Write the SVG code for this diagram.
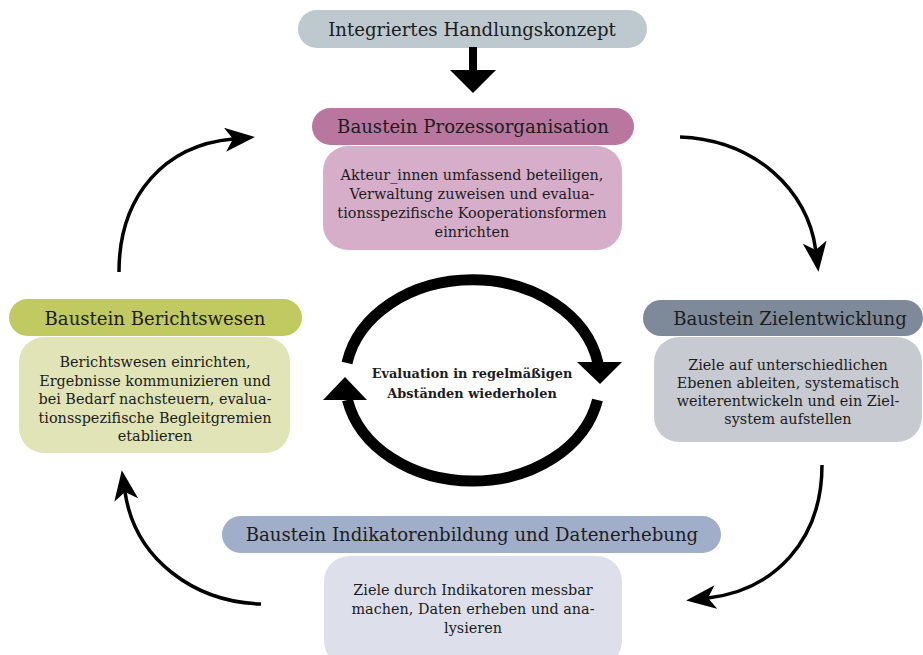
<svg xmlns="http://www.w3.org/2000/svg" width="923" height="655" viewBox="0 0 923 655">
<style>
.t{font-family:"DejaVu Serif","Liberation Serif",serif;fill:#1c1c1c;text-anchor:middle}
.h{font-size:18.1px}
.b{font-size:14.4px}
.c{font-size:12.9px;font-weight:bold}
.conn{fill:none;stroke:#000;stroke-width:3.5}
.loop{fill:none;stroke:#000;stroke-width:11}
</style>
<defs>
<marker id="ah" markerUnits="userSpaceOnUse" viewBox="0 0 30 24" markerWidth="30" markerHeight="24" refX="8" refY="12" orient="auto">
<path d="M0,0 L30,12 L0,24 L8,12 Z" fill="#000"/>
</marker>
</defs>
<rect width="923" height="655" fill="#fff"/>

<g id="node-konzept">
<rect x="298" y="10" width="349" height="38" rx="19" fill="#bdc8cf"/>
<text class="t h" x="472" y="36">Integriertes Handlungskonzept</text>
</g>

<g id="node-prozess">
<rect x="312" y="108" width="322" height="37" rx="18.5" fill="#b9779f"/>
<text class="t h" x="473" y="133">Baustein Prozessorganisation</text>
<rect x="323" y="146" width="299" height="104" rx="25" fill="#d6aec9"/>
<text class="t b" x="472" y="180">Akteur_innen umfassend beteiligen,</text>
<text class="t b" x="472" y="199">Verwaltung zuweisen und evalua-</text>
<text class="t b" x="472" y="218">tionsspezifische Kooperationsformen</text>
<text class="t b" x="472" y="237">einrichten</text>
</g>

<g id="node-bericht">
<rect x="9" y="299" width="293" height="37" rx="18.5" fill="#c1c961"/>
<text class="t h" x="155" y="325">Baustein Berichtswesen</text>
<rect x="19" y="337" width="271" height="116" rx="25" fill="#e0e4b6"/>
<text class="t b" x="155" y="367">Berichtswesen einrichten,</text>
<text class="t b" x="155" y="385.5">Ergebnisse kommunizieren und</text>
<text class="t b" x="155" y="404">bei Bedarf nachsteuern, evalua-</text>
<text class="t b" x="155" y="422.5">tionsspezifische Begleitgremien</text>
<text class="t b" x="155" y="441">etablieren</text>
</g>

<g id="node-ziel">
<rect x="643" y="300" width="280" height="36" rx="18" fill="#7e8a99"/>
<text class="t h" x="790" y="325">Baustein Zielentwicklung</text>
<rect x="654" y="337" width="268" height="105" rx="25" fill="#c7cad1"/>
<text class="t b" x="788" y="370">Ziele auf unterschiedlichen</text>
<text class="t b" x="788" y="388">Ebenen ableiten, systematisch</text>
<text class="t b" x="788" y="406">weiterentwickeln und ein Ziel-</text>
<text class="t b" x="788" y="424">system aufstellen</text>
</g>

<g id="node-indikator">
<rect x="222" y="516" width="499" height="37" rx="18.5" fill="#a1aec9"/>
<text class="t h" x="472" y="541">Baustein Indikatorenbildung und Datenerhebung</text>
<rect x="324" y="556" width="298" height="110" rx="25" fill="#dde0ea"/>
<text class="t b" x="473" y="595">Ziele durch Indikatoren messbar</text>
<text class="t b" x="473" y="614">machen, Daten erheben und ana-</text>
<text class="t b" x="473" y="633">lysieren</text>
</g>

<g id="node-evaluation">
<text class="t c" x="472" y="378">Evaluation in regelmäßigen</text>
<text class="t c" x="472" y="398">Abständen wiederholen</text>
</g>

<g id="connectors">
<rect x="469" y="47" width="8" height="24" fill="#000"/>
<polygon points="450,70 496,70 473,93" fill="#000"/>
<path class="conn" d="M119,272 C119,195 165,145 233,139" marker-end="url(#ah)"/>
<path class="conn" d="M680,137 C755,140 808,190 815.7,250" marker-end="url(#ah)"/>
<path class="conn" d="M822,465 C822,540 775,590 708,598" marker-end="url(#ah)"/>
<path class="conn" d="M261,604 C195,602 135,560 125,492" marker-end="url(#ah)"/>
<path class="loop" d="M347,363 A127.5,101 0 0 1 598,363"/>
<polygon points="577,362 622,362 600,384" fill="#000"/>
<path class="loop" d="M597.5,400 A127.5,101 0 0 1 347.5,400"/>
<polygon points="323,400 367,400 345,377" fill="#000"/>
</g>
</svg>
